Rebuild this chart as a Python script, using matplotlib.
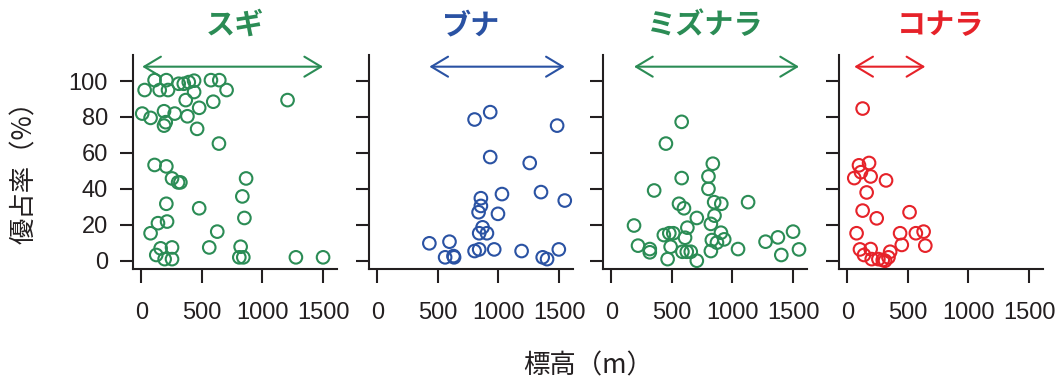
import matplotlib
matplotlib.use('Agg')
import matplotlib.pyplot as plt

# species, colours and arrow ranges (elevation range of each species)
species = ['スギ', 'ブナ', 'ミズナラ', 'コナラ']
colors = ['#2b8c55', '#2a52a3', '#2b8c55', '#e62229']
arrow_ranges = [(8, 1500), (430, 1547), (188, 1549), (58, 644)]

# elevation (m) and dominance (%) per species
sugi_x = [110, 207, 309, 351, 392, 436, 575, 644, 28, 152, 221, 436, 704,
          367, 594, 1207, 478, 8, 77, 188, 276, 381, 202, 188, 461, 641,
          110, 207, 254, 304, 323, 865, 834, 207, 478, 851, 138, 213, 77,
          627, 160, 254, 561, 820, 124, 193, 254, 809, 842, 1276, 1500]
sugi_y = [100.5, 100.5, 98.5, 98.5, 99.4, 100.2, 100.5, 100.5, 95, 95, 95,
          93.9, 95, 89.4, 88.5, 89.4, 85.1, 81.9, 79.5, 83.2, 81.9, 80.4,
          77.1, 75.2, 73.4, 65.2, 53.3, 52.5, 45.8, 43.6, 43.6, 45.8, 35.8,
          31.7, 29.2, 23.8, 20.9, 21.8, 15.3, 16.2, 6.9, 7.4, 7.4, 7.8, 3.2,
          0.9, 0.9, 1.9, 1.9, 1.9, 1.9]

buna_x = [803, 932, 1484, 932, 1258, 855, 1029, 1351, 1547, 855, 836, 996,
          869, 841, 905, 430, 596, 560, 629, 634, 803, 841, 965, 1191, 1365,
          1401, 1498]
buna_y = [78.6, 82.7, 75.2, 57.7, 54.4, 34.8, 37.1, 38.2, 33.5, 30.5, 27.0,
          26.1, 18.6, 15.3, 15.3, 9.7, 10.6, 1.9, 2.6, 1.9, 5.4, 6.3, 6.3,
          5.4, 1.9, 0.9, 6.3]

mizunara_x = [581, 451, 838, 802, 581, 802, 354, 849, 908, 1129, 559, 600,
              852, 706, 822, 188, 628, 434, 479, 512, 905, 609, 1500, 1375,
              1273, 221, 318, 318, 490, 830, 872, 932, 1046, 587, 623, 656,
              822, 465, 706, 1403, 1549]
mizunara_y = [77.3, 65.2, 54.0, 46.9, 46.0, 40.0, 39.1, 32.6, 31.7, 32.6,
              31.7, 29.2, 25.1, 23.8, 20.5, 19.6, 18.4, 14.3, 15.3, 15.3,
              15.6, 12.8, 16.2, 13.0, 10.6, 8.4, 6.5, 4.7, 7.8, 11.5, 10.1,
              11.9, 6.5, 5.0, 5.0, 5.0, 5.4, 0.9, 0.0, 3.2, 6.3]

konara_x = [127, 97, 180, 113, 58, 193, 320, 160, 127, 514, 243, 77, 436,
            566, 630, 450, 644, 105, 193, 138, 202, 257, 312, 354, 340, 293]
konara_y = [84.7, 53.1, 54.4, 49.3, 46.0, 46.9, 44.7, 38.0, 27.9, 27.0, 23.6,
            15.3, 15.3, 15.3, 16.2, 8.8, 8.4, 6.3, 6.5, 3.2, 0.9, 0.9, 0.0,
            5.0, 1.9, 0.4]

xs = [sugi_x, buna_x, mizunara_x, konara_x]
ys = [sugi_y, buna_y, mizunara_y, konara_y]

x_ticks = [0, 500, 1000, 1500]
y_ticks = [0, 20, 40, 60, 80, 100]

cjk = ['Noto Sans CJK JP', 'DejaVu Sans']
num_font = ['Liberation Sans', 'DejaVu Sans']
ink = '#231f20'

fig = plt.figure(figsize=(10.61, 3.81), dpi=100)
W, H = 1061, 381
lefts = [133, 369, 603, 839]
ax_w = 204
top, bottom = 55, 269

for i, name in enumerate(species):
    ax = fig.add_axes([lefts[i] / W, 1 - bottom / H, ax_w / W, (bottom - top) / H])
    ax.scatter(xs[i], ys[i], s=82, facecolors='none', edgecolors=colors[i],
               linewidths=1.5, zorder=3, clip_on=False)
    a, b = arrow_ranges[i]
    ax.annotate('', xy=(b, 108), xytext=(a, 108),
                arrowprops=dict(arrowstyle='<->, head_length=0.6, head_width=0.36',
                                color=colors[i], lw=1.5, shrinkA=0, shrinkB=0,
                                mutation_scale=20))
    ax.set_xlim(-68, 1615)
    ax.set_ylim(-4.6, 114.5)
    for side in ['top', 'right']:
        ax.spines[side].set_visible(False)
    for side in ['left', 'bottom']:
        ax.spines[side].set_linewidth(1.5)
        ax.spines[side].set_color(ink)
    ax.set_xticks(x_ticks)
    ax.set_xticklabels([str(t) for t in x_ticks], fontsize=17, family=num_font, color=ink)
    ax.set_yticks(y_ticks)
    if i == 0:
        ax.set_yticklabels([str(t) for t in y_ticks], fontsize=17, family=num_font, color=ink)
    else:
        ax.set_yticklabels([])
    ax.tick_params(axis='x', length=10, width=1.5, color=ink, pad=14)
    ax.tick_params(axis='y', length=9.5, width=1.5, color=ink, pad=8.5)
    ax.set_title(name, fontsize=21, fontweight='bold', color=colors[i],
                 family=cjk, pad=15)

fig.text(25 / W, 1 - 166 / H, '優占率（%）', rotation=90, ha='center', va='center',
         fontsize=19, family=cjk, color=ink)
fig.text(588 / W, 1 - 366 / H, '標高（m）', ha='center', va='center',
         fontsize=19, family=cjk, color=ink)

fig.savefig('out.png', dpi=100)
